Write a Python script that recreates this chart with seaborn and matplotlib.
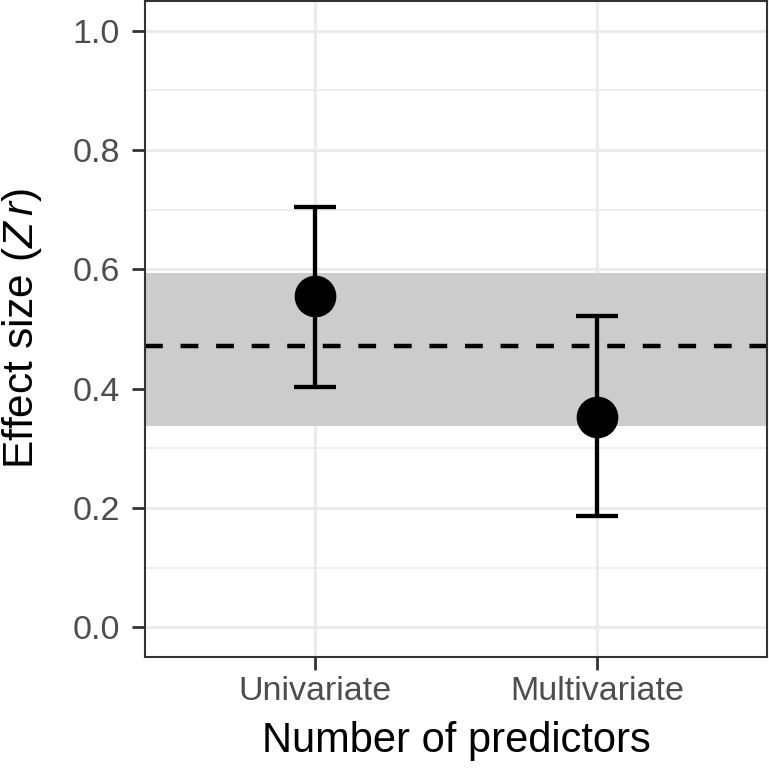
import pandas as pd
import matplotlib
matplotlib.use("Agg")
import matplotlib.pyplot as plt
from matplotlib.ticker import MultipleLocator
import seaborn as sns

# Data
categories = ["Univariate", "Multivariate"]
estimates = [0.555, 0.353]
ci_low = [0.403, 0.186]
ci_high = [0.704, 0.522]
overall_mean = 0.472
overall_low = 0.338
overall_high = 0.594
y_ticks = [0.0, 0.2, 0.4, 0.6, 0.8, 1.0]
y_tick_labels = ["0.0", "0.2", "0.4", "0.6", "0.8", "1.0"]


def build_frame():
    df = pd.DataFrame({
        "predictors": categories,
        "estimate": estimates,
        "lo": ci_low,
        "hi": ci_high,
    })
    df["err_lo"] = df["estimate"] - df["lo"]
    df["err_hi"] = df["hi"] - df["estimate"]
    return df


def plot_effects(df):
    sns.set_style("white")
    plt.rcParams["font.family"] = ["Liberation Sans", "DejaVu Sans"]
    plt.rcParams["mathtext.fontset"] = "custom"
    plt.rcParams["mathtext.rm"] = "Liberation Sans"
    plt.rcParams["mathtext.it"] = "Liberation Sans:italic"

    fig = plt.figure(figsize=(7.69, 7.68), dpi=100)
    ax = fig.add_axes([145 / 769, 111 / 768, 622 / 769, 656 / 768])

    # pooled estimate band and dashed mean line
    ax.axhspan(overall_low, overall_high, color="#CCCCCC", lw=0, zorder=1)
    ax.axhline(overall_mean, color="black", lw=3.2, ls=(0, (4, 4)), zorder=2)

    ax.errorbar(df["predictors"], df["estimate"],
                yerr=[df["err_lo"], df["err_hi"]],
                fmt="none", ecolor="black", elinewidth=3.1,
                capsize=15, capthick=3.1, zorder=3)
    sns.scatterplot(data=df, x="predictors", y="estimate", s=900,
                    color="black", linewidth=0, ax=ax, zorder=4)

    ax.set_xlim(-0.6, 1.6)
    ax.set_ylim(-0.05, 1.05)
    ax.set_yticks(y_ticks)
    ax.set_yticklabels(y_tick_labels)
    ax.yaxis.set_minor_locator(MultipleLocator(0.1))

    ax.set_axisbelow(True)
    ax.grid(which="major", color="#EBEBEB", lw=2.2)
    ax.grid(which="minor", axis="y", color="#EBEBEB", lw=1.2)

    for spine in ax.spines.values():
        spine.set_color("#333333")
        spine.set_linewidth(1.5)

    ax.tick_params(which="major", bottom=True, left=True, length=9.5,
                   width=2, color="#333333", labelsize=24.5,
                   labelcolor="#4D4D4D")
    ax.tick_params(axis="x", pad=4.5)
    ax.tick_params(axis="y", pad=8.5)
    ax.tick_params(which="minor", length=0)

    ax.set_xlabel("Number of predictors", fontsize=30, color="black")
    ax.set_ylabel(r"Effect size ($\mathit{Z\,r}$)", fontsize=30.5, color="black")
    ax.xaxis.set_label_coords(0.5, -0.098)
    ax.yaxis.set_label_coords(-0.163, 0.5)

    fig.savefig("out.png", dpi=100)


if __name__ == "__main__":
    df = build_frame()
    plot_effects(df)
